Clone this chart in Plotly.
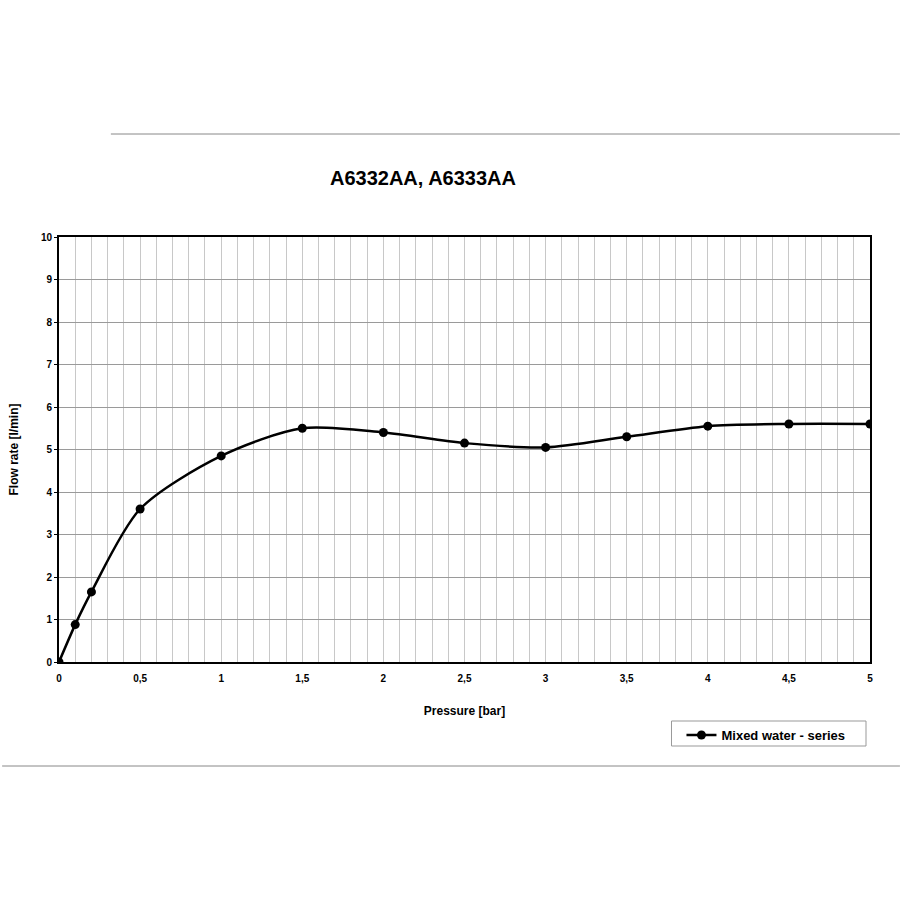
import plotly.graph_objects as go

pressure = [0, 0.1, 0.2, 0.5, 1.0, 1.5, 2.0, 2.5, 3.0, 3.5, 4.0, 4.5, 5.0]
flow_rate = [0, 0.88, 1.65, 3.6, 4.85, 5.5, 5.4, 5.15, 5.05, 5.3, 5.55, 5.6, 5.6]

x_tickvals = [0, 0.5, 1, 1.5, 2, 2.5, 3, 3.5, 4, 4.5, 5]
x_ticktext = ["0", "0,5", "1", "1,5", "2", "2,5", "3", "3,5", "4", "4,5", "5"]
y_tickvals = [0, 1, 2, 3, 4, 5, 6, 7, 8, 9, 10]

title_text = "A6332AA, A6333AA"
series_name = "Mixed water - series"

FONT = "Liberation Sans, Arial, Helvetica, sans-serif"

# plot area in pixels: x 57..870, y 237..662
PW, PH = 813, 425
def px(xp):
    return (xp - 57) / PW
def py(yp):
    return (662 - yp) / PH

fig = go.Figure()
fig.add_trace(go.Scatter(
    x=pressure, y=flow_rate, name=series_name,
    mode="lines+markers",
    line=dict(color="black", width=2.5, shape="spline", smoothing=0.8),
    marker=dict(color="black", size=9),
))

fig.update_layout(
    width=900, height=900,
    paper_bgcolor="white", plot_bgcolor="white",
    margin=dict(l=57, r=30, t=237, b=238),
    font=dict(family=FONT, color="black"),
    title=dict(text=title_text, x=423/900, xanchor="center",
               y=1-178/900, yanchor="middle",
               font=dict(size=20, family=FONT, weight="bold")),
    showlegend=True,
    legend=dict(x=px(681), y=py(720), xanchor="left", yanchor="top",
                borderwidth=0, bgcolor="rgba(0,0,0,0)",
                font=dict(size=13, family=FONT, weight="bold"), itemwidth=30),
    xaxis=dict(range=[0, 5], tickvals=x_tickvals, ticktext=x_ticktext,
               showgrid=True, gridcolor="#c8c8c8", gridwidth=1,
               minor=dict(dtick=0.1, showgrid=True, gridcolor="#c8c8c8", gridwidth=1),
               showline=True, linecolor="black", linewidth=2, mirror=True,
               ticks="", ticklabelstandoff=6,
               tickfont=dict(size=10, family=FONT, weight="bold"),
               title=dict(text="Pressure [bar]", font=dict(size=12, weight="bold"), standoff=24),
               zeroline=False, fixedrange=True),
    yaxis=dict(range=[0, 10], tickvals=y_tickvals,
               showgrid=True, gridcolor="#9a9a9a", gridwidth=1,
               showline=True, linecolor="black", linewidth=2, mirror=True,
               ticks="outside", ticklen=3, tickcolor="black",
               tickfont=dict(size=10, family=FONT, weight="bold"),
               title=dict(text="Flow rate [l/min]", font=dict(size=12, weight="bold"), standoff=20),
               zeroline=False, fixedrange=True),
)

# legend frame
fig.add_shape(type="rect", xref="paper", yref="paper",
              x0=px(671), x1=px(866), y0=py(721), y1=py(746),
              line=dict(color="#999999", width=1), fillcolor="rgba(0,0,0,0)")
# page separator lines
fig.add_shape(type="line", xref="paper", yref="paper",
              x0=px(109), x1=px(900), y0=py(134), y1=py(134),
              line=dict(color="#888888", width=1))
fig.add_shape(type="line", xref="paper", yref="paper",
              x0=px(0), x1=px(900), y0=py(766), y1=py(766),
              line=dict(color="#888888", width=1))

fig.write_html("out.html", config={"displayModeBar": False},
               post_script="document.body.style.margin='0';")
